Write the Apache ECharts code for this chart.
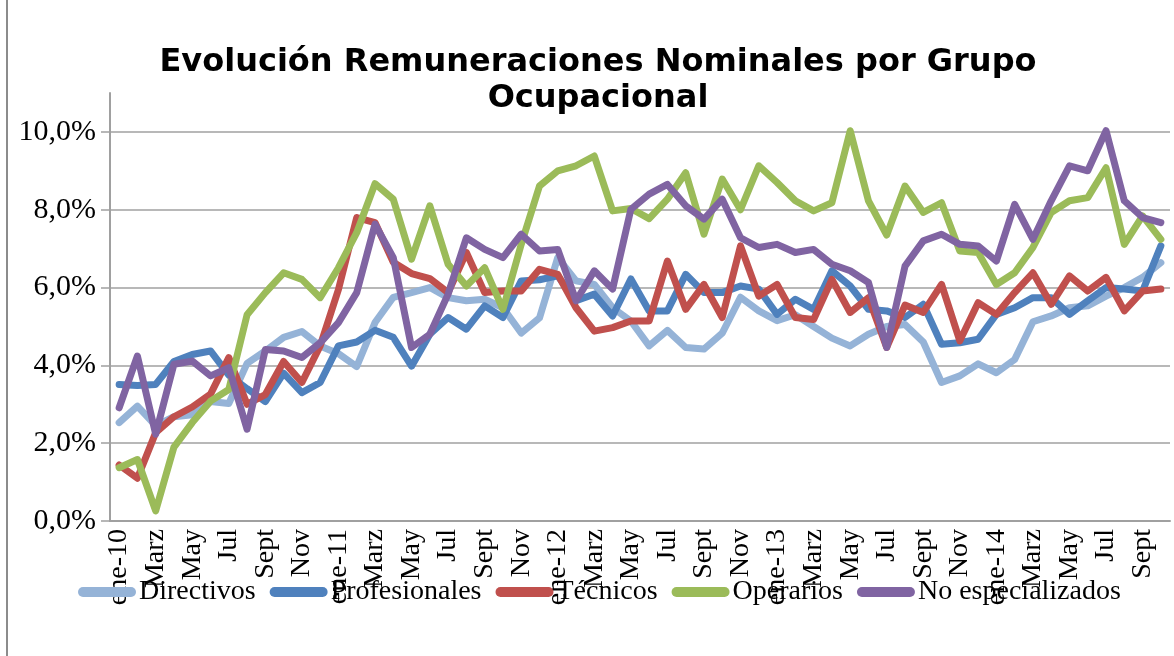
<!DOCTYPE html>
<html>
<head>
<meta charset="utf-8">
<script src="https://cdn.jsdelivr.net/npm/echarts@6/dist/echarts.min.js"></script>
<style>
  html, body { margin: 0; padding: 0; background: #fff; }
  #main { width: 1174px; height: 656px; }
</style>
</head>
<body>
<div id="main"></div>
<script>
// meses (ene-10 .. oct-14)
var meses = ['ene', 'Feb', 'Marz', 'Abr', 'May', 'Jun', 'Jul', 'Ago', 'Sept', 'Oct', 'Nov', 'Dic'];
var categorias = [];
for (var a = 10; a <= 14; a++) {
    for (var m = 0; m < 12; m++) {
        if (a === 14 && m > 9) break;
        categorias.push(m === 0 ? 'ene-' + a : meses[m]);
    }
}

var directivos = [2.53, 2.95, 2.45, 2.68, 2.73, 3.07, 3.02, 4.05, 4.37, 4.72, 4.87, 4.5, 4.3, 3.97, 5.1,
    5.75, 5.87, 6.0, 5.74, 5.66, 5.7, 5.48, 4.83, 5.22, 6.77, 6.17, 6.08, 5.48, 5.14, 4.5,
    4.9, 4.46, 4.42, 4.83, 5.75, 5.4, 5.15, 5.3, 5.0, 4.7, 4.5, 4.8, 5.0, 5.05, 4.6,
    3.56, 3.73, 4.04, 3.81, 4.15, 5.12, 5.27, 5.48, 5.53, 5.78, 6.0, 6.26, 6.64];

var profesionales = [3.51, 3.48, 3.51, 4.1, 4.28, 4.37, 3.75, 3.4, 3.07, 3.8, 3.3, 3.56, 4.5, 4.6, 4.9,
    4.72, 3.98, 4.8, 5.23, 4.93, 5.53, 5.23, 6.17, 6.2, 6.3, 5.66, 5.83, 5.27, 6.22, 5.4,
    5.4, 6.34, 5.87, 5.87, 6.04, 5.96, 5.31, 5.7, 5.44, 6.43, 6.04, 5.44, 5.4, 5.23, 5.57,
    4.54, 4.58, 4.67, 5.31, 5.48, 5.74, 5.74, 5.31, 5.66, 6.0, 5.96, 5.91, 7.07];

var tecnicos = [1.44, 1.1, 2.27, 2.68, 2.93, 3.26, 4.2, 3.0, 3.25, 4.1, 3.56, 4.5, 5.95, 7.8, 7.67,
    6.65, 6.36, 6.23, 5.87, 6.9, 5.87, 5.91, 5.91, 6.47, 6.34, 5.48, 4.88, 4.97, 5.14, 5.14,
    6.68, 5.44, 6.08, 5.23, 7.07, 5.78, 6.08, 5.23, 5.18, 6.21, 5.36, 5.74, 4.46, 5.55, 5.36,
    6.08, 4.63, 5.61, 5.31, 5.87, 6.38, 5.57, 6.3, 5.91, 6.26, 5.4, 5.91, 5.96];

var operarios = [1.37, 1.58, 0.26, 1.9, 2.53, 3.08, 3.38, 5.3, 5.87, 6.38, 6.21, 5.74, 6.51, 7.41, 8.67,
    8.27, 6.73, 8.1, 6.6, 6.04, 6.51, 5.44, 7.11, 8.61, 9.0, 9.13, 9.38, 7.97, 8.03, 7.77,
    8.27, 8.95, 7.37, 8.79, 8.0, 9.13, 8.7, 8.23, 7.97, 8.18, 10.03, 8.23, 7.35, 8.61, 7.93,
    8.18, 6.94, 6.9, 6.08, 6.38, 7.03, 7.93, 8.23, 8.31, 9.08, 7.11, 7.84, 7.24];

var noEspecializados = [2.91, 4.24, 2.23, 4.03, 4.11, 3.73, 3.94, 2.36, 4.41, 4.37, 4.2, 4.58, 5.1, 5.87, 7.63,
    6.77, 4.46, 4.8, 5.83, 7.28, 6.98, 6.77, 7.37, 6.94, 6.98, 5.66, 6.43, 5.96, 8.01, 8.4,
    8.65, 8.1, 7.76, 8.27, 7.28, 7.03, 7.11, 6.9, 6.98, 6.6, 6.43, 6.13, 4.46, 6.55, 7.2,
    7.37, 7.11, 7.07, 6.68, 8.14, 7.24, 8.23, 9.13, 9.0, 10.03, 8.23, 7.8, 7.67];

var nombres = ['Directivos', 'Profesionales', 'Técnicos', 'Operarios', 'No especializados'];
var colores = ['#95B3D7', '#4F81BD', '#C0504D', '#9BBB59', '#8064A2'];
var valores = [directivos, profesionales, tecnicos, operarios, noEspecializados];

var serif = '"Liberation Serif", "DejaVu Serif", serif';
var gris = '#a0a0a0';

var myChart = echarts.init(document.getElementById('main'));

myChart.setOption({
    animation: false,
    backgroundColor: '#fff',
    title: {
        text: 'Evolución Remuneraciones Nominales por Grupo\nOcupacional',
        left: 593,
        top: 40,
        textAlign: 'center',
        textStyle: {
            fontFamily: '"DejaVu Sans", sans-serif',
            fontWeight: 'bold',
            fontSize: 32,
            lineHeight: 36,
            color: '#000'
        }
    },
    legend: {
        data: nombres,
        top: 573,
        left: 73,
        itemGap: 14,
        itemWidth: 58,
        itemHeight: 11,
        icon: 'path://M5,0 L53,0 A5,5 0 0 1 53,10 L5,10 A5,5 0 0 1 5,0 Z',
        textStyle: { fontFamily: serif, fontSize: 28, color: '#000', padding: [0, 0, 0, -2] }
    },
    grid: { left: 110, right: 4, top: 93, bottom: 135 },
    xAxis: {
        type: 'category',
        data: categorias,
        boundaryGap: true,
        axisLine: { lineStyle: { color: gris, width: 2 } },
        axisTick: { interval: 0, length: 8, lineStyle: { color: gris, width: 1.5 } },
        axisLabel: {
            interval: 1,
            rotate: 90,
            margin: 8,
            fontFamily: serif,
            fontSize: 28,
            color: '#000'
        }
    },
    yAxis: {
        type: 'value',
        min: 0,
        max: 11,
        interval: 2,
        axisLine: { show: true, lineStyle: { color: gris, width: 2 } },
        axisTick: { show: true, length: 9, lineStyle: { color: gris, width: 1.5 } },
        splitLine: { showMaxLine: false, lineStyle: { color: gris, width: 1.5 } },
        axisLabel: {
            showMaxLabel: false,
            margin: 14,
            fontFamily: serif,
            fontSize: 30,
            color: '#000',
            formatter: function (v) { return v.toFixed(1).replace('.', ',') + '%'; }
        }
    },
    series: nombres.map(function (n, i) {
        return {
            name: n,
            type: 'line',
            data: valores[i],
            showSymbol: false,
            symbol: 'none',
            color: colores[i],
            lineStyle: { width: 7, color: colores[i], cap: 'round', join: 'round' }
        };
    }),
    graphic: [{
        type: 'line',
        shape: { x1: 7, y1: 0, x2: 7, y2: 656 },
        style: { stroke: '#8c8c8c', lineWidth: 2 }
    }]
});
</script>
</body>
</html>
